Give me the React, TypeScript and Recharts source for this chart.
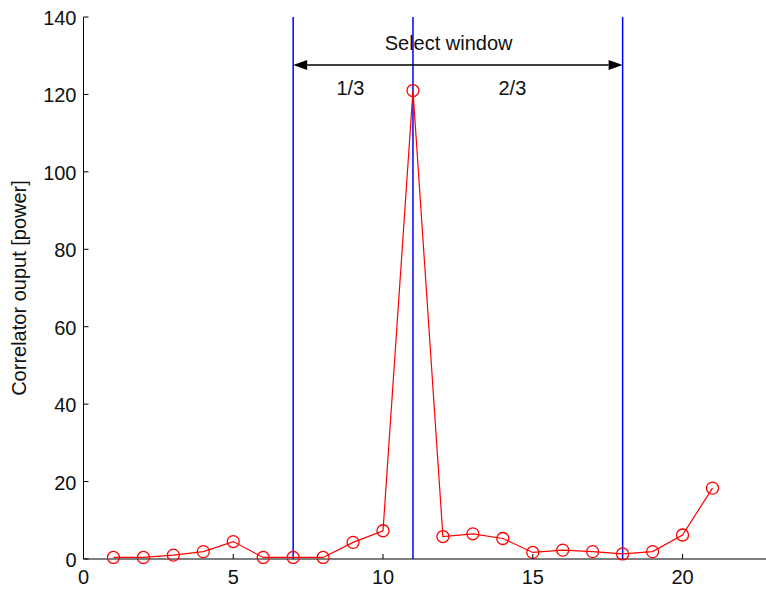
import {
  ComposedChart,
  Line,
  ReferenceDot,
  ReferenceLine,
  XAxis,
  YAxis,
} from "recharts";

// correlator output samples
const lags = [1, 2, 3, 4, 5, 6, 7, 8, 9, 10, 11, 12, 13, 14, 15, 16, 17, 18, 19, 20, 21];
const power = [0.4, 0.4, 1.0, 1.9, 4.5, 0.4, 0.4, 0.4, 4.3, 7.3, 121, 5.8, 6.5, 5.3, 1.7, 2.3, 1.9, 1.3, 1.9, 6.2, 18.3];

const windowLines = [7, 11, 18];
const xTicks = [0, 5, 10, 15, 20];
const yTicks = [0, 20, 40, 60, 80, 100, 120, 140];

const annotations = [
  { x: 12.19, y: 133.3, text: "Select window" },
  { x: 8.91, y: 121.7, text: "1/3" },
  { x: 14.32, y: 121.7, text: "2/3" },
];
const arrowY = 127.6;

const TEXT = "#111";
const FONT = "'Liberation Sans', Arial, sans-serif";
const CHART_W = 790;
const CHART_H = 590;
const X_DOMAIN: [number, number] = [0, 23];
const Y_DOMAIN: [number, number] = [0, 140];

const data = lags.map((lag, i) => ({ lag, power: power[i] }));

function BottomTick({ x, y, payload }: any) {
  return (
    <g>
      <line x1={x} x2={x} y1={y} y2={y - 5} stroke="#000" />
      <text x={x} y={y + 18} textAnchor="middle" dominantBaseline="central" fill={TEXT} fontSize={20} fontFamily={FONT}>
        {payload.value}
      </text>
    </g>
  );
}

function LeftTick({ x, y, payload }: any) {
  return (
    <g>
      <line x1={x} x2={x + 5} y1={y} y2={y} stroke="#000" />
      <text x={x - 7} y={y + 1} textAnchor="end" dominantBaseline="central" fill={TEXT} fontSize={20} fontFamily={FONT}>
        {payload.value}
      </text>
    </g>
  );
}

function TopTick({ x, y }: any) {
  return <line x1={x} x2={x} y1={y} y2={y + 5} stroke="#000" />;
}

function RightTick({ x, y }: any) {
  return <line x1={x} x2={x - 5} y1={y} y2={y} stroke="#000" />;
}

function ArrowShape({ x1, y1, x2, y2 }: any) {
  const head = 14;
  const half = 5;
  return (
    <g>
      <line x1={x1 + head} y1={y1} x2={x2 - head} y2={y2} stroke="#000" strokeWidth={1.5} />
      <polygon points={`${x1},${y1} ${x1 + head},${y1 - half} ${x1 + head},${y1 + half}`} fill="#000" />
      <polygon points={`${x2},${y2} ${x2 - head},${y2 - half} ${x2 - head},${y2 + half}`} fill="#000" />
    </g>
  );
}

function Circle({ cx, cy, index }: any) {
  return <circle key={index} cx={cx} cy={cy} r={6} fill="none" stroke="#ff0000" strokeWidth={1.3} />;
}

export default function App() {
  return (
    <div
      style={{
        position: "fixed",
        left: 0,
        top: 0,
        width: 766,
        height: 590,
        overflow: "hidden",
        background: "#fff",
        fontFamily: FONT,
      }}
    >
      <ComposedChart
        width={CHART_W}
        height={CHART_H}
        data={data}
        margin={{ top: 17, right: 17.6, bottom: 0, left: 0 }}
      >
        <XAxis
          dataKey="lag"
          type="number"
          domain={X_DOMAIN}
          ticks={xTicks}
          interval={0}
          height={31}
          tickSize={0}
          tickMargin={0}
          tickLine={false}
          axisLine={{ stroke: "#000" }}
          tick={BottomTick}
        />
        <XAxis
          xAxisId="top"
          orientation="top"
          type="number"
          domain={X_DOMAIN}
          ticks={xTicks}
          interval={0}
          height={0}
          tickSize={0}
          tickMargin={0}
          tickLine={false}
          axisLine={{ stroke: "#000" }}
          tick={TopTick}
        />
        <YAxis
          type="number"
          domain={Y_DOMAIN}
          ticks={yTicks}
          interval={0}
          width={83.5}
          tickSize={0}
          tickMargin={0}
          tickLine={false}
          axisLine={{ stroke: "#000" }}
          tick={LeftTick}
          label={{
            value: "Correlator ouput [power]",
            angle: -90,
            position: "insideLeft",
            offset: 19,
            style: { fill: TEXT, fontSize: 20, fontFamily: FONT, textAnchor: "middle" },
          }}
        />
        <YAxis
          yAxisId="right"
          orientation="right"
          type="number"
          domain={Y_DOMAIN}
          ticks={yTicks}
          interval={0}
          width={0}
          tickSize={0}
          tickMargin={0}
          tickLine={false}
          axisLine={{ stroke: "#000" }}
          tick={RightTick}
        />
        {windowLines.map((x) => (
          <ReferenceLine key={x} x={x} stroke="#0000ff" strokeWidth={1.5} />
        ))}
        <ReferenceLine
          segment={[
            { x: windowLines[0], y: arrowY },
            { x: windowLines[2], y: arrowY },
          ]}
          shape={ArrowShape}
        />
        {annotations.map((a) => (
          <ReferenceDot
            key={a.text}
            x={a.x}
            y={a.y}
            r={0}
            fill="none"
            stroke="none"
            label={{ value: a.text, position: "center", fill: TEXT, fontSize: 20, fontFamily: FONT }}
          />
        ))}
        <Line
          dataKey="power"
          stroke="#ff0000"
          strokeWidth={1.2}
          dot={Circle}
          activeDot={false}
          isAnimationActive={false}
        />
      </ComposedChart>
    </div>
  );
}
